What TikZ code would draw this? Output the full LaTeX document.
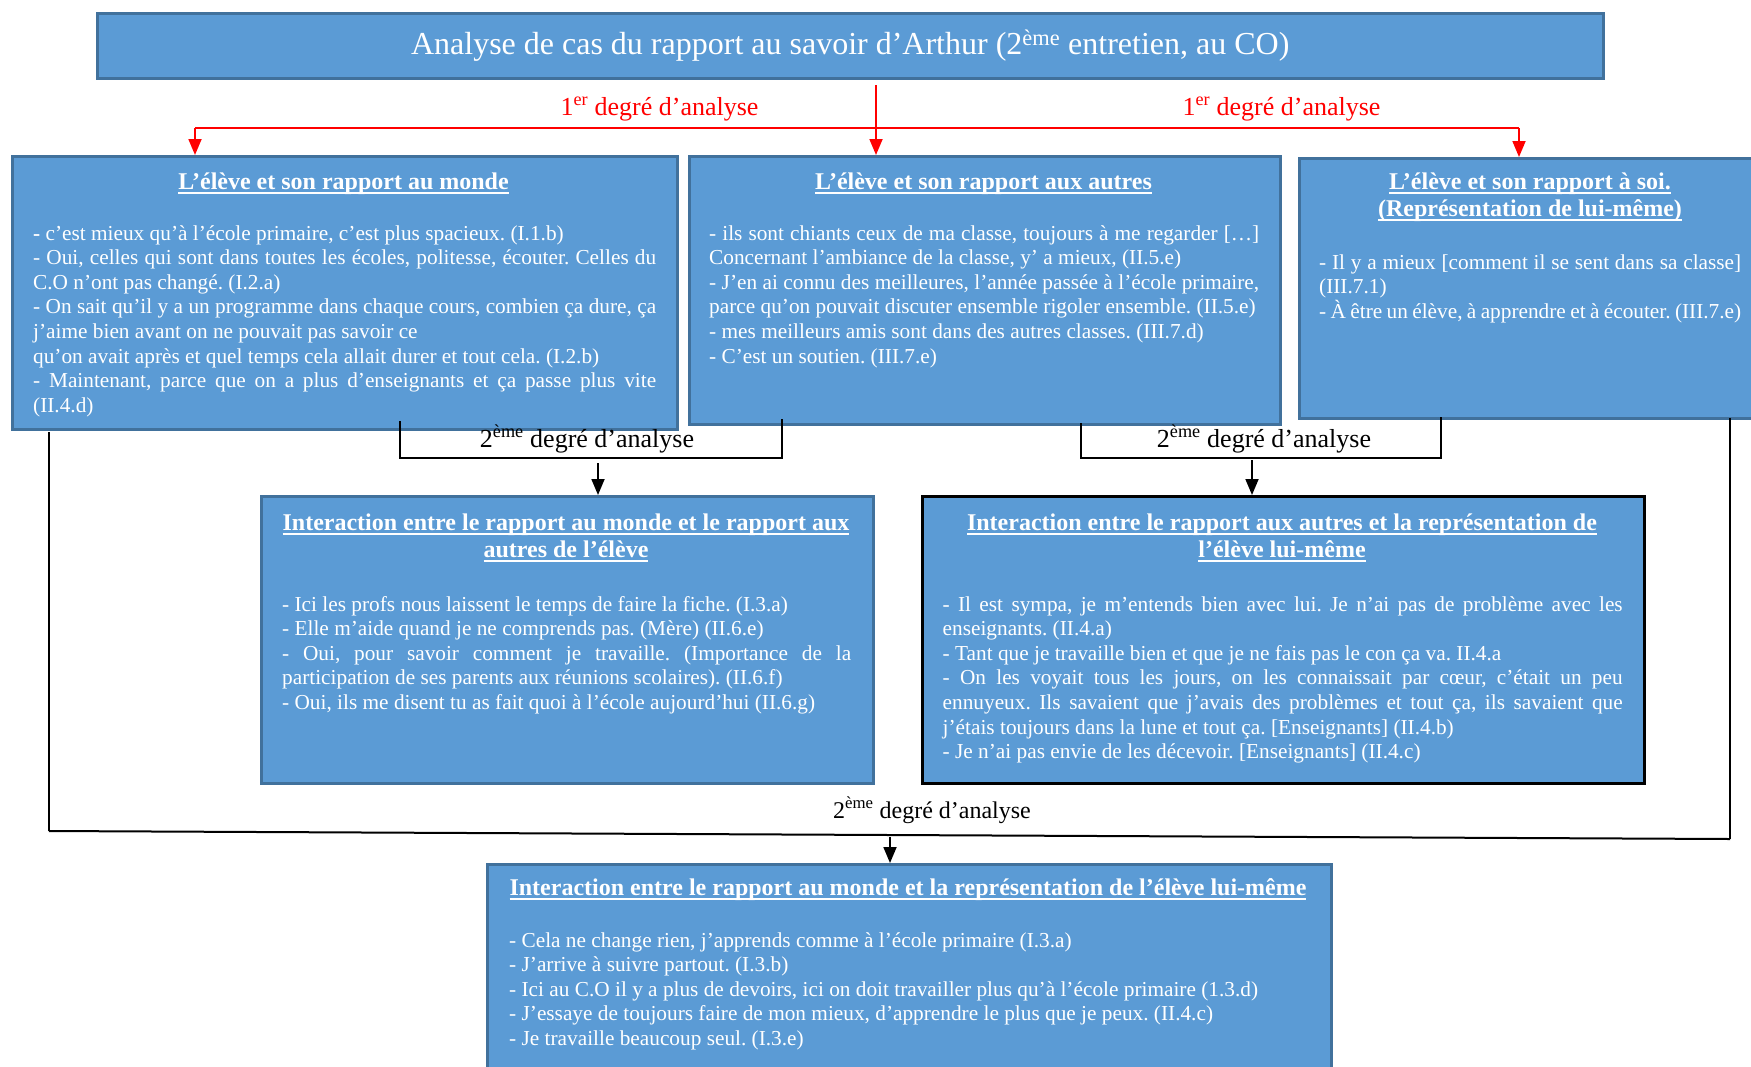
\documentclass[tikz,border=0pt]{standalone}
\usepackage{fontspec}
\setmainfont{Liberation Serif}
\usetikzlibrary{arrows.meta}
\definecolor{bleu}{HTML}{5B9BD5}
\definecolor{bleufonce}{HTML}{41719C}
\tikzstyle{cadre}=[draw=bleufonce, line width=2.5pt, fill=bleu, inner sep=0pt, anchor=north west]
\tikzstyle{entete}=[text=white, inner sep=0pt, anchor=base, align=center, font=\fontsize{24}{27.5}\selectfont\bfseries]
\tikzstyle{corps}=[text=white, inner sep=0pt, anchor=base west, align=justify, font=\fontsize{21.3}{24.6}\selectfont]
\tikzstyle{degre}=[inner sep=0pt, anchor=base, font=\fontsize{26}{30}\selectfont]
\tikzstyle{fleche}=[line width=1.8pt, -{Triangle[length=16pt, width=13pt]}]
\tikzstyle{trait}=[line width=1.3pt]
\newcommand{\cadre}{\node[cadre]}
\newcommand{\souligne}[1]{\setbox0=\hbox{#1}\rlap{\rule[-4.5pt]{\wd0}{2pt}}\box0}

\begin{document}
\frenchspacing
\begin{tikzpicture}[x=1pt, y=-1pt]
\useasboundingbox (0,0) rectangle (1751,1066);
\fill[white] (0,0) rectangle (1751,1066);

% titre
\cadre[minimum width=1506, minimum height=65, text=white,
    font=\fontsize{32}{36}\selectfont] (titre) at (96,12)
    {Analyse de cas du rapport au savoir d'Arthur (2\textsuperscript{ème} entretien, au CO)};

% les cadres
\cadre[minimum width=665, minimum height=273] (monde) at (11,155) {};
\cadre[minimum width=591, minimum height=268] (autres) at (688,155) {};
\cadre[minimum width=480, minimum height=260] (soi) at (1298,157) {};
\cadre[minimum width=612, minimum height=287] (monde-autres) at (260,495) {};
\cadre[minimum width=722, minimum height=287, draw=black, line width=3pt] (autres-soi) at (921,495) {};
\cadre[minimum width=844, minimum height=230] (monde-soi) at (486,863) {};

% 1er degre
\coordinate (r-haut) at (876,85);
\coordinate (r-gauche) at (195,128);
\coordinate (r-droite) at (1519,128);
\draw[red, line width=1.8pt] (r-gauche) -- (r-droite);
\draw[fleche, red] (r-haut) -- (r-haut |- autres.north);
\draw[fleche, red] (r-gauche) -- (r-gauche |- monde.north);
\draw[fleche, red] (r-droite) -- (r-droite |- soi.north);
\node[degre, red] (deg-1a) at (659.5,115) {1\textsuperscript{er} degré d'analyse};
\node[degre, red] (deg-1b) at (1281.5,115) {1\textsuperscript{er} degré d'analyse};

% 2eme degre
\coordinate (a-g) at (400,421);
\coordinate (a-d) at (782,419);
\coordinate (a-f) at (598,463);
\draw[trait] (a-g) -- ++(0,37) -| (a-d);
\draw[fleche] (a-f) -- (a-f |- monde-autres.north);
\node[degre] (deg-2a) at (587,447) {2\textsuperscript{ème} degré d'analyse};

\coordinate (b-g) at (1081,423);
\coordinate (b-d) at (1441,417);
\coordinate (b-f) at (1252,460);
\draw[trait] (b-g) -- ++(0,35) -| (b-d);
\draw[fleche] (b-f) -- (b-f |- autres-soi.north);
\node[degre] (deg-2b) at (1264,447) {2\textsuperscript{ème} degré d'analyse};

\coordinate (c-g) at (49,432);
\coordinate (c-gb) at (49,831);
\coordinate (c-db) at (1730,839);
\coordinate (c-d) at (1730,418);
\coordinate (c-f) at (890,837);
\draw[trait] (c-g) -- (c-gb);
\draw[line width=2pt] (c-gb) -- (c-db);
\draw[trait] (c-db) -- (c-d);
\draw[fleche] (c-f) -- (c-f |- monde-soi.north);
\node[degre, font=\fontsize{24}{28}\selectfont] (deg-2c) at (932,818) {2\textsuperscript{ème} degré d'analyse};

% textes
\node[entete] (monde-titre) at (343.5,189) {\souligne{L'élève et son rapport au monde}};
\node[corps, text width=623] (monde-texte) at (33,240)
{\textbf{-} c'est mieux qu'à l'école primaire, c'est plus spacieux. (I.1.b)\par
- Oui, celles qui sont dans toutes les écoles, politesse, écouter. Celles du\linebreak C.O n'ont pas changé. (I.2.a)\par
- On sait qu'il y a un programme dans chaque cours, combien ça dure, ça\linebreak j'aime bien avant on ne pouvait pas savoir ce\newline qu'on avait après et quel temps cela allait durer et tout cela. (I.2.b)\par
- Maintenant, parce que on a plus d'enseignants et ça passe plus vite\linebreak (II.4.d)};

\node[entete] (autres-titre) at (983.5,189) {\souligne{L'élève et son rapport aux autres}};
\node[corps, text width=550] (autres-texte) at (709,240)
{- ils sont chiants ceux de ma classe, toujours à me regarder […]\linebreak Concernant l'ambiance de la classe, y' a mieux, (II.5.e)\par
- J'en ai connu des meilleures, l'année passée à l'école primaire,\linebreak parce qu'on pouvait discuter ensemble rigoler ensemble. (II.5.e)\par
- mes meilleurs amis sont dans des autres classes. (III.7.d)\par
- C'est un soutien. (III.7.e)};

\node[entete] (soi-titre) at (1530,216.5) {\souligne{L'élève et son rapport à soi.}\\ \souligne{(Représentation de lui-même)}};
\node[corps, text width=422] (soi-texte) at (1319,269)
{- Il y a mieux [comment il se sent dans sa classe]\linebreak (III.7.1)\par
- À être un élève, à apprendre et à écouter. (III.7.e)};

\node[entete] (monde-autres-titre) at (566,557.5) {\souligne{Interaction entre le rapport au monde et le rapport aux}\\ \souligne{autres de l'élève}};
\node[corps, text width=569] (monde-autres-texte) at (282,611)
{- Ici les profs nous laissent le temps de faire la fiche. (I.3.a)\par
- Elle m'aide quand je ne comprends pas. (Mère) (II.6.e)\par
- Oui, pour savoir comment je travaille. (Importance de la\linebreak participation de ses parents aux réunions scolaires). (II.6.f)\par
- Oui, ils me disent tu as fait quoi à l'école aujourd'hui (II.6.g)};

\node[entete] (autres-soi-titre) at (1282,557.5) {\souligne{Interaction entre le rapport aux autres et la représentation de}\\ \souligne{l'élève lui-même}};
\node[corps, text width=680] (autres-soi-texte) at (942.5,611)
{- Il est sympa, je m'entends bien avec lui. Je n'ai pas de problème avec les\linebreak enseignants. (II.4.a)\par
- Tant que je travaille bien et que je ne fais pas le con ça va. II.4.a\par
- On les voyait tous les jours, on les connaissait par cœur, c'était un peu\linebreak ennuyeux. Ils savaient que j'avais des problèmes et tout ça, ils savaient que\linebreak j'étais toujours dans la lune et tout ça. [Enseignants] (II.4.b)\par
- Je n'ai pas envie de les décevoir. [Enseignants] (II.4.c)};

\node[entete] (monde-soi-titre) at (908,895) {\souligne{Interaction entre le rapport au monde et la représentation de l'élève lui-même}};
\node[corps, text width=801] (monde-soi-texte) at (509,947)
{- Cela ne change rien, j'apprends comme à l'école primaire (I.3.a)\par
- J'arrive à suivre partout. (I.3.b)\par
- Ici au C.O il y a plus de devoirs, ici on doit travailler plus qu'à l'école primaire (1.3.d)\par
- J'essaye de toujours faire de mon mieux, d'apprendre le plus que je peux. (II.4.c)\par
- Je travaille beaucoup seul. (I.3.e)};
\end{tikzpicture}
\end{document}
